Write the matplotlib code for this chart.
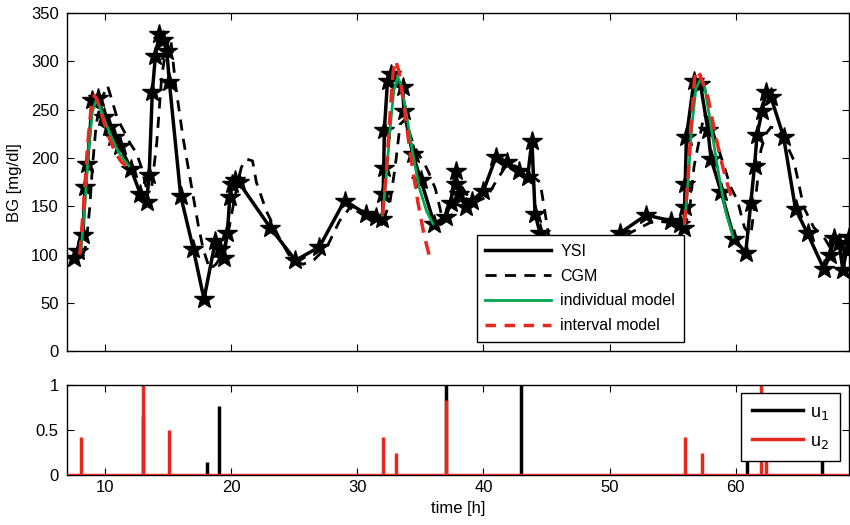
"""BG traces (YSI / CGM / models) with inputs u1, u2 below."""
import matplotlib
matplotlib.use("Agg")
import matplotlib.pyplot as plt
from matplotlib.lines import Line2D

plt.rcParams["font.family"] = ["Liberation Sans", "DejaVu Sans"]
plt.rcParams["font.size"] = 12

# --- data ---
ysi_t = [7.55, 7.85, 8.25, 8.42, 8.6, 9.0, 9.47, 9.9, 10.3, 10.7, 11.2, 12.05,
         12.8, 13.3, 13.5, 13.75, 14.0, 14.3, 14.6, 14.9, 15.1, 16.0, 17.0,
         17.85, 18.75, 19.1, 19.4, 19.7, 19.9, 20.1, 20.3, 20.6, 23.1, 25.1,
         27.0, 29.0, 30.7, 31.5, 32.0, 32.05, 32.1, 32.15, 32.4, 32.7, 33.6,
         33.7, 34.4, 35.05, 36.1, 37.0, 37.4, 37.8, 37.85, 38.07, 38.6, 39.1,
         40.0, 41.0, 41.9, 42.8, 43.5, 43.85, 44.1, 44.5, 46.5, 48.5, 50.8,
         52.9, 54.9, 55.55, 55.9, 55.95, 56.0, 56.1, 56.7, 57.2, 57.8, 58.05,
         58.85, 59.9, 60.8, 61.2, 61.5, 61.7, 62.1, 62.4, 62.8, 63.8, 64.75,
         65.7, 67.0, 67.5, 67.8, 68.2, 68.5, 68.8, 69.0]
ysi_bg = [96, 104, 120, 170, 194, 260, 262, 242, 232, 222, 212, 189,
          163, 154, 182, 268, 306, 328, 322, 311, 279, 161, 106,
          54, 114, 106, 97, 122, 160, 173, 177, 175, 128, 94,
          108, 156, 142, 139, 137, 163, 190, 229, 280, 287, 274,
          249, 204, 177, 132, 139, 153, 187, 173, 163, 149, 156,
          166, 201, 196, 187, 180, 218, 142, 122, 110, 105, 122,
          141, 135, 132, 128, 149, 173, 222, 280, 277, 229, 199,
          165, 116, 102, 153, 192, 224, 249, 268, 263, 222, 147,
          122, 85, 100, 117, 112, 84, 105, 118]

cgm_t = [8.2, 8.5, 8.8, 9.0, 9.3, 9.7, 10.2, 10.5, 11.0, 11.5, 12.0, 12.5,
         12.9, 13.3, 13.7, 14.1, 14.5, 14.9, 15.2, 15.6, 16.2, 16.8, 17.4,
         17.8, 18.3, 18.8, 19.3, 19.8, 20.3, 20.8, 21.2, 21.7, 22.0, 22.8,
         23.9, 24.8, 25.7, 26.6, 27.6, 28.6, 29.5, 30.5, 31.5, 32.2, 32.6,
         33.0, 33.4, 33.8, 34.3, 34.8, 35.3, 35.7, 36.2, 36.7, 37.2, 37.7,
         38.3, 38.8, 39.5, 40.3, 41.1, 41.8, 42.5, 43.3, 44.0, 44.5, 45.3,
         47.0, 50.5, 51.7, 53.5, 55.0, 55.8, 56.3, 56.7, 57.0, 57.5, 57.9,
         58.5, 59.1, 59.6, 60.15, 60.7, 61.2, 61.6, 62.0, 62.4, 62.8, 63.3,
         64.0, 64.6, 65.4, 66.2, 67.0, 67.6, 68.2, 69.0]
cgm_bg = [98, 110, 150, 190, 235, 260, 275, 262, 240, 228, 215, 205,
          190, 168, 170, 215, 285, 318, 325, 275, 220, 175, 130,
          105, 85, 90, 100, 125, 160, 190, 199, 197, 175, 145,
          115, 95, 90, 95, 108, 135, 150, 145, 140, 140, 155,
          190, 235, 240, 220, 205, 195, 184, 168, 140, 135, 145,
          170, 160, 155, 160, 178, 192, 192, 185, 180, 175, 110,
          105, 110, 123, 135, 133, 130, 140, 191, 211, 245, 240,
          215, 191, 170, 156, 128, 120, 160, 208, 225, 232, 230,
          215, 198, 149, 128, 118, 105, 112, 115]

# individual model (green), three prediction windows
ind_t = [[8.1, 8.4, 8.7, 9.0, 9.3, 9.6, 10.0, 10.5, 11.0, 11.5, 11.9],
         [32.0, 32.3, 32.6, 32.9, 33.2, 33.5, 33.9, 34.4, 34.9, 35.5, 36.0],
         [55.95, 56.2, 56.5, 56.85, 57.2, 57.5, 57.9, 58.3, 58.7, 59.2, 59.8]]
ind_bg = [[104, 150, 210, 248, 260, 253, 238, 222, 208, 198, 192],
          [141, 180, 230, 270, 284, 275, 245, 205, 170, 145, 132],
          [132, 170, 230, 272, 281, 277, 245, 212, 180, 145, 118]]

# interval model (red dashed)
int_t = [[8.0, 8.3, 8.6, 8.9, 9.15, 9.4, 9.8, 10.3, 10.8, 11.3, 11.65],
         [32.0, 32.3, 32.6, 32.85, 33.05, 33.3, 33.7, 34.2, 34.8, 35.3, 35.75],
         [55.95, 56.2, 56.5, 56.75, 56.95, 57.2, 57.8, 58.3, 58.8, 59.3, 59.8]]
int_bg = [[100, 150, 210, 252, 265, 260, 242, 222, 206, 196, 192],
          [141, 185, 245, 290, 301, 290, 255, 205, 155, 120, 97],
          [132, 175, 240, 283, 291, 285, 263, 230, 200, 175, 154]]

u1_t = [13.0, 18.1, 19.06, 37.0, 43.0, 60.9, 66.85]
u1 = [0.65, 0.14, 0.77, 1.0, 1.0, 0.7, 0.6]
u2_t = [8.1, 13.0, 15.1, 32.05, 33.1, 37.0, 55.95, 57.3, 62.0, 62.4]
u2 = [0.42, 1.0, 0.5, 0.42, 0.25, 0.83, 0.42, 0.25, 1.0, 0.6]

t_min, t_max = 7, 69
RED = "#e8281e"
GREEN = "#00a651"

fig = plt.figure(figsize=(8.5, 5.25), dpi=100)
ax = fig.add_axes([0.079, 0.331, 0.92, 0.644])
ax2 = fig.add_axes([0.079, 0.095, 0.92, 0.172])

ax.plot(ysi_t, ysi_bg, "k-", lw=2.5, marker="*", ms=15)
ax.plot(cgm_t, cgm_bg, "k--", lw=2, dashes=(4, 3))
for t, g in zip(ind_t, ind_bg):
    ax.plot(t, g, color=GREEN, lw=2)
for t, g in zip(int_t, int_bg):
    ax.plot(t, g, color=RED, lw=2.5, ls="--", dashes=(4, 2.5))

handles = [Line2D([], [], color="k", lw=2.5),
           Line2D([], [], color="k", lw=2, ls="--", dashes=(4, 3)),
           Line2D([], [], color=GREEN, lw=2),
           Line2D([], [], color=RED, lw=2.5, ls="--", dashes=(3, 2.5))]
leg = ax.legend(handles, ["YSI", "CGM", "individual model", "interval model"],
                loc="lower right", bbox_to_anchor=(0.789, 0.027),
                borderaxespad=0, fancybox=False, edgecolor="black",
                framealpha=1, handlelength=4.1, handletextpad=0.6,
                borderpad=0.55, labelspacing=0.62, fontsize=11.5)
leg.set_zorder(5)

ax.set_xlim(t_min, t_max)
ax.set_ylim(0, 350)
ax.set_xticks(range(10, 70, 10))
ax.set_xticklabels([])
ax.set_yticks(range(0, 351, 50))
ax.set_ylabel("BG [mg/dl]")
ax.yaxis.set_label_coords(-0.058, 0.5)

ax2.vlines(u1_t, 0, u1, color="black", lw=2.5)
ax2.vlines(u2_t, 0, u2, color=RED, lw=2.5)
ax2.axhline(0, color=RED, lw=2.5, zorder=3)
ax2.set_xlim(t_min, t_max)
ax2.set_ylim(0, 1)
ax2.set_xticks(range(10, 70, 10))
ax2.set_yticks([0, 0.5, 1])
ax2.set_yticklabels(["0", "0.5", "1"])
ax2.set_xlabel("time [h]")
h2 = [Line2D([], [], color="k", lw=2.5), Line2D([], [], color=RED, lw=2.5)]
leg2 = ax2.legend(h2, [r"u$_1$", r"u$_2$"], loc="upper right",
                  bbox_to_anchor=(0.988, 0.91), borderaxespad=0,
                  fancybox=False, edgecolor="black", framealpha=1,
                  handlelength=2.8, handletextpad=0.4, fontsize=13,
                  borderpad=0.6, labelspacing=0.6)
leg2.set_zorder(5)

for a in (ax, ax2):
    a.tick_params(direction="in", top=True, right=True, length=5, width=0.8,
                  labelsize=12)
    a.tick_params(axis="y", pad=6)
    for s in a.spines.values():
        s.set_linewidth(1.0)

fig.savefig("out.png", dpi=100)
